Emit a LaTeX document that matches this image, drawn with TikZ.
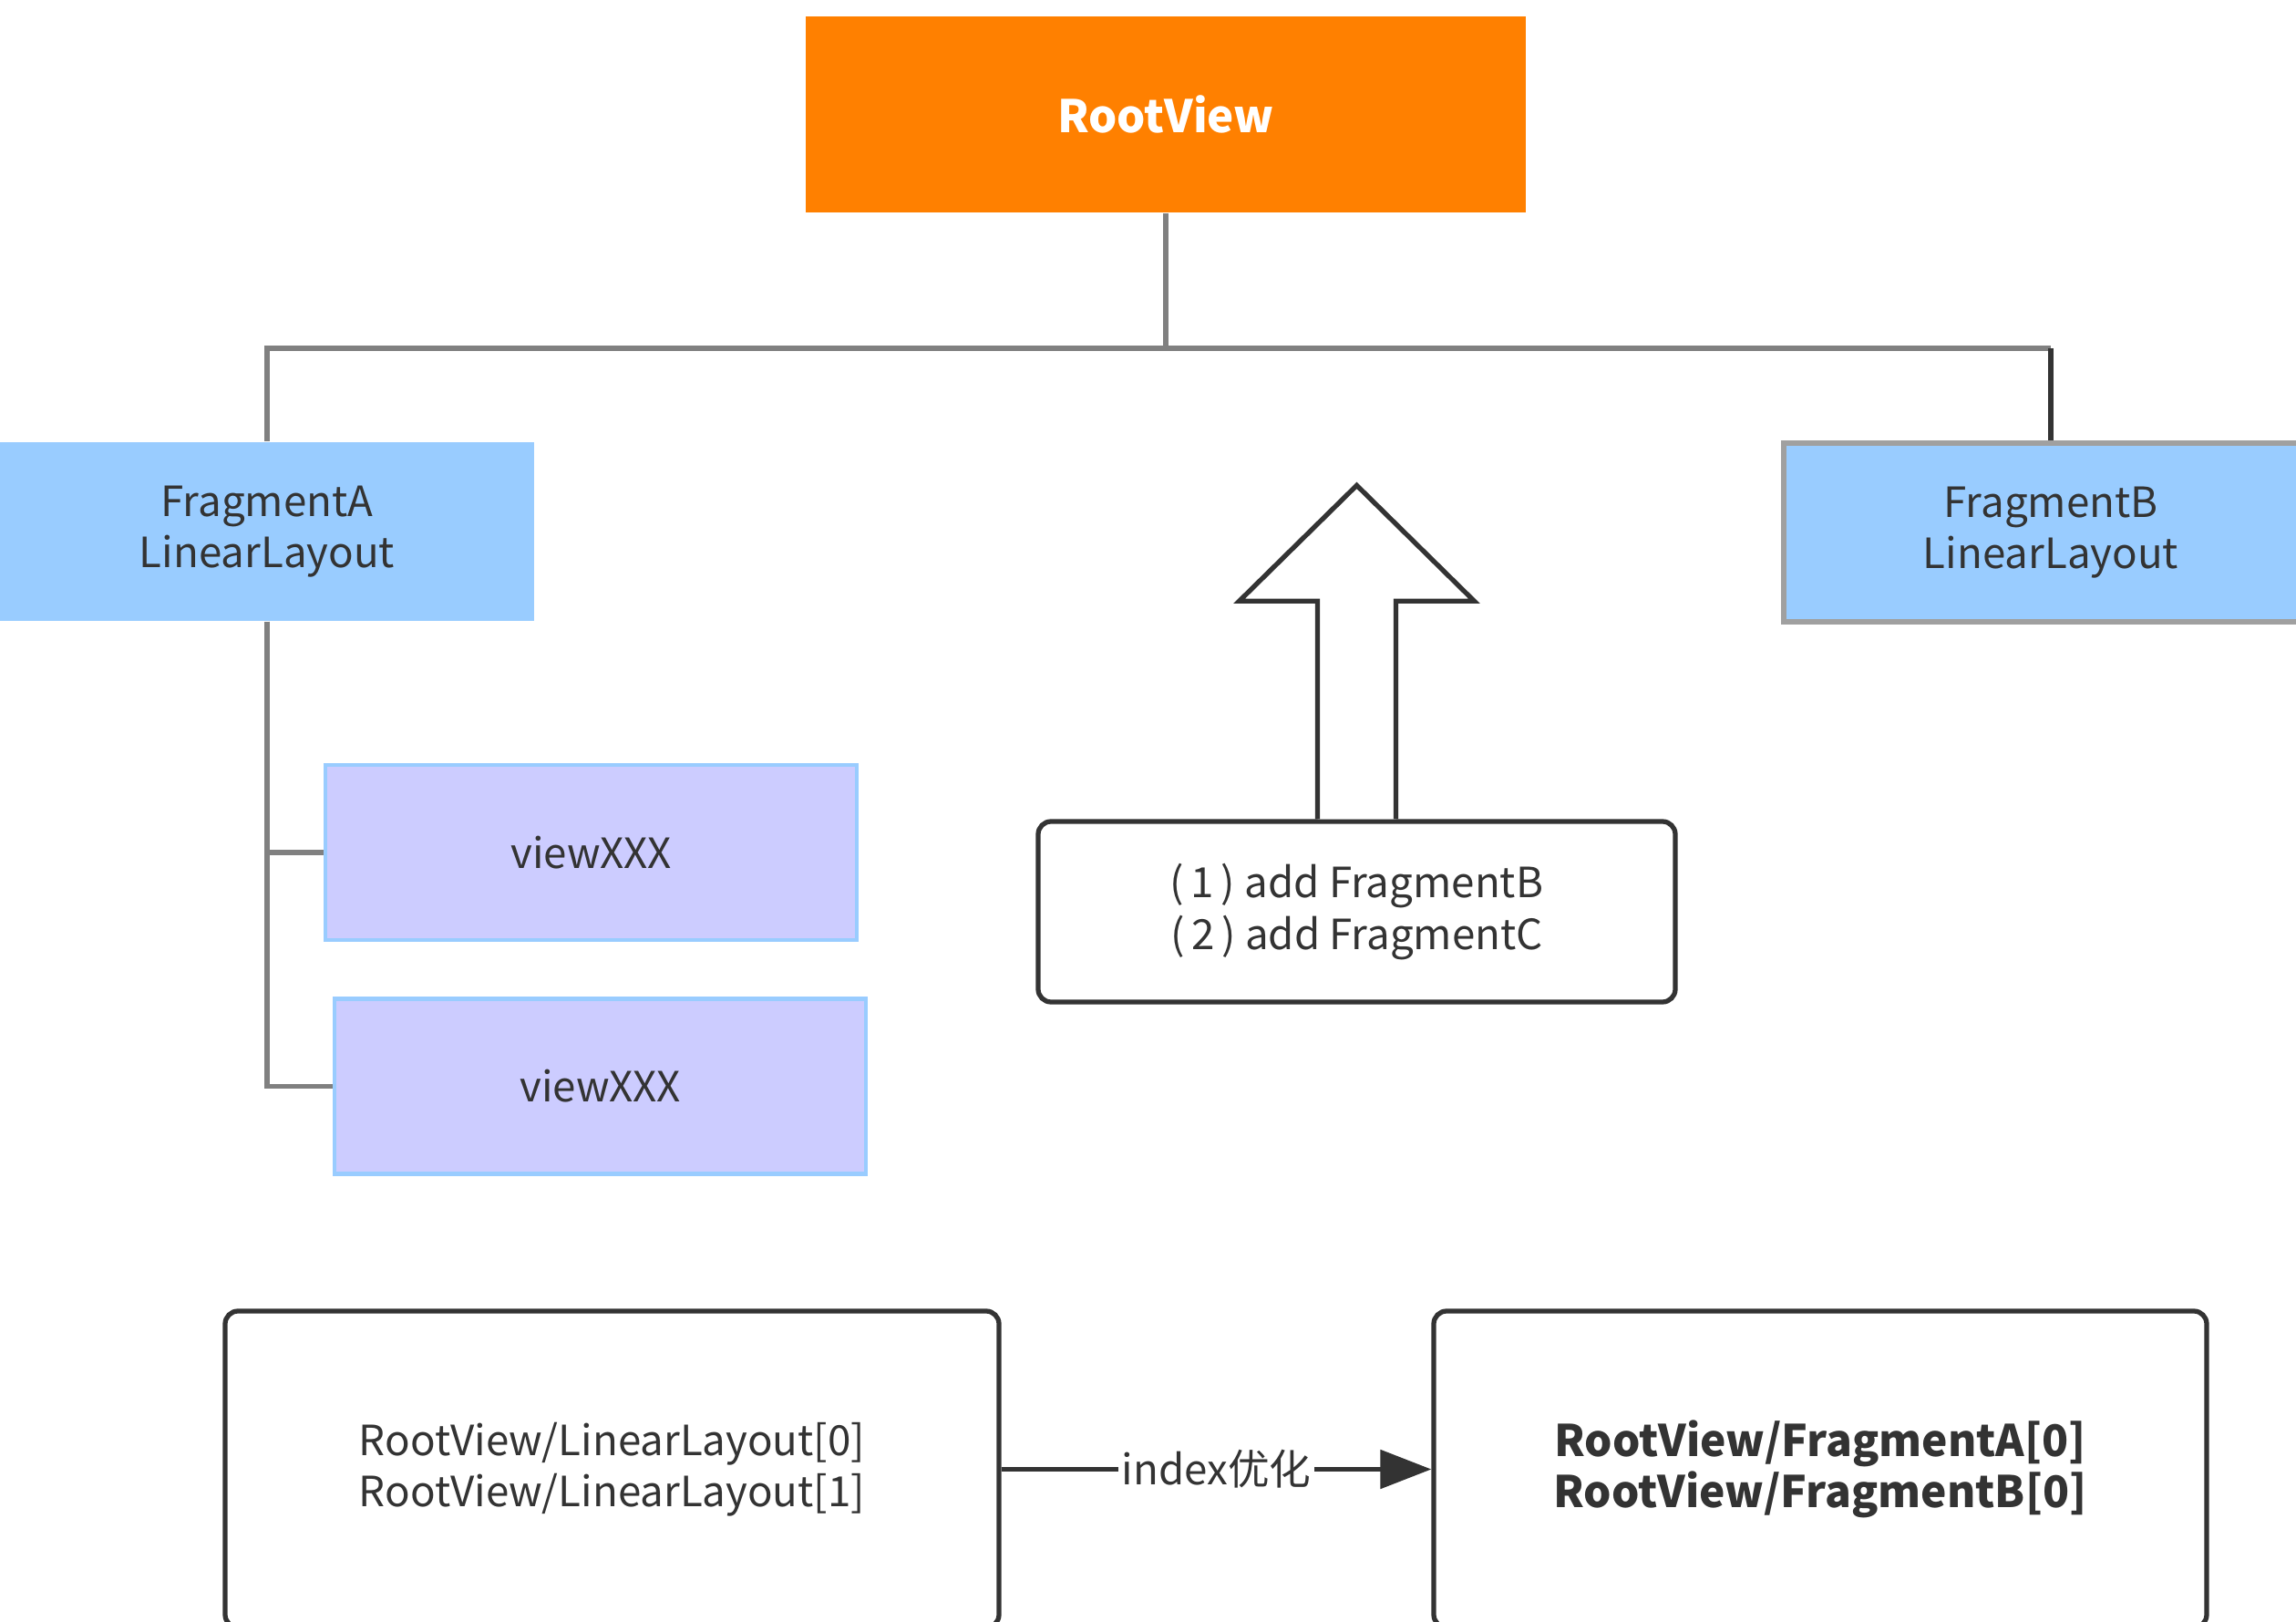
\documentclass[tikz,border=0pt]{standalone}
\usepackage{fontspec}
\setmainfont{Noto Sans CJK SC}
\usepackage{tikz}
\usetikzlibrary{arrows.meta, positioning, calc}
\definecolor{rootorange}{HTML}{FF8000}
\definecolor{fragblue}{HTML}{99CCFF}
\definecolor{viewlilac}{HTML}{CCCCFF}
\definecolor{treegray}{HTML}{808080}
\definecolor{inkdark}{HTML}{333333}
\definecolor{framegray}{HTML}{A0A0A0}

\begin{document}
\begin{tikzpicture}[font=\fontsize{13}{16}\selectfont, text=inkdark]
    \tikzstyle{rootbox} = [rectangle, minimum width=7.9cm, minimum height=2.15cm, fill=rootorange,
      text=white, font=\fontsize{14}{17}\selectfont\bfseries]
    \tikzstyle{fragbox} = [rectangle, minimum width=5.86cm, minimum height=1.96cm, fill=fragblue,
      align=center]
    \tikzstyle{viewbox} = [rectangle, minimum width=5.83cm, minimum height=1.92cm, fill=viewlilac,
      draw=fragblue, line width=1.3pt]
    \tikzstyle{notebox} = [rectangle, rounded corners=4pt, draw=inkdark, line width=1.5pt,
      fill=white, align=center]
    \tikzstyle{tree} = [draw=treegray, line width=1.5pt]

    \clip (0,0) rectangle (25.19,-17.79);

    % hierarchy
    \node (root)  [rootbox] at (12.79,-1.255) {RootView};
    \node (fragA) [fragbox] at (2.93,-5.83) {FragmentA\\LinearLayout};
    \node (fragB) [fragbox, draw=framegray, line width=1.6pt] at (22.50,-5.84) {FragmentB\\LinearLayout};
    \node (viewA) [viewbox] at (6.485,-9.35) {viewXXX};
    \node (viewB) [viewbox] at (6.585,-11.915) {viewXXX};

    \coordinate (bus) at (12.79,-3.82);
    \draw [tree] (root.south) -- (bus);
    \draw [tree] (bus) -| (fragA.north);
    \draw [tree] (bus) -- (bus -| fragB.north);
    \draw [tree, draw=inkdark] (bus -| fragB.north) -- (fragB.north);
    \draw [tree] (fragA.south) |- (viewA.west);
    \draw [tree] (fragA.south) |- (viewB.west);

    % add step
    \node (add) [notebox, minimum width=6.99cm, minimum height=1.98cm] at (14.885,-10.0)
      {(\,1\,) add FragmentB\\(\,2\,) add FragmentC};
    \draw [draw=inkdark, line width=1.5pt, fill=white]
      ($(add.north)+(-0.43,0)$) -- ++(0,2.39) -- ++(-0.86,0) -- ($(add.north)+(0,3.66)$)
      -- ($(add.north)+(1.29,2.39)$) -- ++(-0.86,0) -- ($(add.north)+(0.43,0)$);

    % paths
    \node (oldpath) [notebox, minimum width=8.49cm, minimum height=3.47cm] at (6.715,-16.115)
      {RootView/LinearLayout[0]\\RootView/LinearLayout[1]};
    \node (newpath) [notebox, minimum width=8.48cm, minimum height=3.47cm, font=\fontsize{13.6}{16}\selectfont\bfseries]
      at (19.97,-16.115) {RootView/FragmentA[0]\\RootView/FragmentB[0]};
    \draw [-{Triangle[length=0.56cm, width=0.42cm]}, draw=inkdark, fill=inkdark, line width=1.5pt]
      (oldpath) -- (newpath)
      node[midway, fill=white, inner sep=1pt] {index优化};
\end{tikzpicture}
\end{document}
